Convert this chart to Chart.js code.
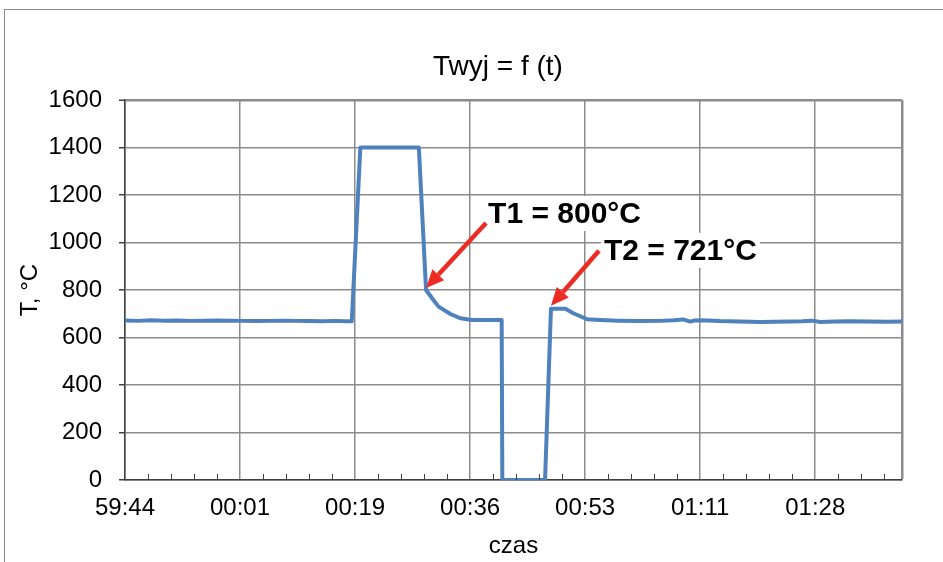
<!DOCTYPE html>
<html lang="pl">
<head>
    <meta charset="UTF-8">
    <title>Twyj = f (t)</title>
    <script src="https://cdn.jsdelivr.net/npm/chart.js"></script>
    <style>
        html, body { margin: 0; padding: 0; background: #fff; overflow: hidden; }
        #frame { position: absolute; left: 4px; top: 9px; width: 1000px; height: 600px; border: 1.5px solid #8a8a8a; }
        #wrap { position: absolute; left: 0; top: 0; width: 943px; height: 562px; }
    </style>
</head>
<body>
    <div id="frame"></div>
    <div id="wrap"><canvas id="chart" width="943" height="562"></canvas></div>

    <script>
        // dane (czas w sekundach od 59:44)
        const timeSec = [0, 2, 4, 6, 8, 10, 12, 14, 16, 18,
            20, 22, 24, 26, 28, 30, 32, 33.5, 34.5, 35.8,
            44.7, 45.8, 46.8, 47.7, 49.5, 51.0, 52.8, 55, 57.3, 57.4,
            63.9, 64.8, 67.0, 68.2, 70.3, 72.3, 75, 78.4, 81.4, 83.5,
            84.9, 86.0, 86.7, 87.5, 90.5, 93.5, 96.6, 99, 101.2, 103,
            104.5, 105.8, 108, 110.3, 113, 116, 118.2];
        const tempC = [672, 670, 673, 671, 672, 670, 671, 672, 671, 670,
            669, 670, 671, 670, 669, 668, 670, 668, 668, 1400,
            1400, 800, 762, 730, 699, 681, 674, 674, 674, 0,
            0, 721, 721, 702, 677, 674, 671, 669, 670, 673,
            676, 667, 672, 673, 669, 667, 665, 666, 667, 668,
            671, 665, 667, 668, 667, 666, 667];

        const tickLabels = ['59:44', '00:01', '00:19', '00:36', '00:53', '01:11', '01:28'];
        const secPerLabel = 17.5;
        const minorPerLabel = 5;
        const xMax = 118.2;

        const yTicks = [0, 200, 400, 600, 800, 1000, 1200, 1400, 1600];

        const noteLabels = ['T1 = 800°C', 'T2 = 721°C'];
        const noteTimes = [45.8, 64.8];
        const noteTemps = [800, 721];

        const FONT = "'Liberation Sans', Arial, sans-serif";
        const GRID = '#8c8c8c';
        const AXIS = '#404040';

        // tytuł wykresu
        const titlePlugin = {
            id: 'chartTitle',
            afterDraw(chart, args, opts) {
                const ctx = chart.ctx;
                ctx.save();
                ctx.font = '28px ' + FONT;
                ctx.fillStyle = '#000';
                ctx.textAlign = 'center';
                ctx.textBaseline = 'middle';
                ctx.fillText(opts.text, opts.x, opts.y);
                ctx.restore();
            }
        };

        // małe kreski osi X skierowane do góry
        const minorTicksPlugin = {
            id: 'minorTicks',
            afterDatasetsDraw(chart) {
                const x = chart.scales.x;
                const ctx = chart.ctx;
                const bottom = chart.chartArea.bottom;
                ctx.save();
                ctx.strokeStyle = AXIS;
                ctx.lineWidth = 1;
                x.ticks.forEach((t, i) => {
                    if (i % minorPerLabel === 0 || t.value >= xMax) return;
                    const px = Math.round(x.getPixelForValue(t.value)) + 0.5;
                    ctx.beginPath();
                    ctx.moveTo(px, bottom);
                    ctx.lineTo(px, bottom - 6);
                    ctx.stroke();
                });
                ctx.restore();
            }
        };

        // strzałki z opisami T1 / T2
        const notesPlugin = {
            id: 'notes',
            afterDraw(chart, args, opts) {
                const ctx = chart.ctx;
                const xs = chart.scales.x, ys = chart.scales.y;
                ctx.save();
                noteLabels.forEach((label, i) => {
                    const o = opts.offsets[i];
                    const px = xs.getPixelForValue(noteTimes[i]);
                    const py = ys.getPixelForValue(noteTemps[i]);
                    const tipX = px + o.tip[0], tipY = py + o.tip[1];
                    const tailX = px + o.tail[0], tailY = py + o.tail[1];

                    // tło tekstu
                    ctx.font = 'bold 30px ' + FONT;
                    const w = ctx.measureText(label).width;
                    const tx = px + o.text[0], ty = py + o.text[1];
                    ctx.fillStyle = '#fff';
                    ctx.fillRect(tx - 3, ty - 27, w + 6, 35);
                    ctx.fillStyle = '#000';
                    ctx.textAlign = 'left';
                    ctx.textBaseline = 'alphabetic';
                    ctx.fillText(label, tx, ty);

                    // strzałka
                    const ang = Math.atan2(tipY - tailY, tipX - tailX);
                    const headLen = 18, headW = 8;
                    const bx = tipX - headLen * Math.cos(ang);
                    const by = tipY - headLen * Math.sin(ang);
                    ctx.strokeStyle = opts.color;
                    ctx.fillStyle = opts.color;
                    ctx.lineWidth = 4.5;
                    ctx.beginPath();
                    ctx.moveTo(tailX, tailY);
                    ctx.lineTo(bx, by);
                    ctx.stroke();
                    ctx.beginPath();
                    ctx.moveTo(tipX, tipY);
                    ctx.lineTo(bx + headW * Math.sin(ang), by - headW * Math.cos(ang));
                    ctx.lineTo(bx - headW * Math.sin(ang), by + headW * Math.cos(ang));
                    ctx.closePath();
                    ctx.fill();
                });
                ctx.restore();
            }
        };

        const points = timeSec.map((t, i) => ({ x: t, y: tempC[i] }));

        new Chart(document.getElementById('chart'), {
            type: 'line',
            data: {
                datasets: [{
                    label: 'Twyj',
                    data: points,
                    borderColor: '#4f81bd',
                    borderWidth: 4,
                    borderJoinStyle: 'round',
                    pointRadius: 0,
                    tension: 0,
                    fill: false
                }]
            },
            options: {
                responsive: false,
                animation: false,
                layout: { padding: { left: 0, top: 100, right: 41, bottom: 0 } },
                plugins: {
                    legend: { display: false },
                    tooltip: { enabled: false },
                    chartTitle: { text: 'Twyj = f (t)', x: 498, y: 67 },
                    notes: {
                        color: '#ec2b25',
                        offsets: [
                            { tip: [0, -2], tail: [60, -67], text: [62, -67] },
                            { tip: [0, -3], tail: [48, -58], text: [53, -49] }
                        ]
                    }
                },
                scales: {
                    x: {
                        type: 'linear',
                        min: 0,
                        max: xMax,
                        afterBuildTicks: s => {
                            const step = secPerLabel / minorPerLabel;
                            const ticks = [];
                            for (let i = 0; i * step < xMax - 0.01; i++) ticks.push({ value: i * step });
                            ticks.push({ value: xMax });
                            s.ticks = ticks;
                        },
                        afterFit: s => { s.height = 82; },
                        ticks: {
                            autoSkip: false,
                            maxRotation: 0,
                            padding: 14,
                            color: '#000',
                            font: { family: FONT, size: 24 },
                            callback: (v, i) => (i % minorPerLabel === 0 && v < xMax) ? tickLabels[i / minorPerLabel] : ''
                        },
                        grid: {
                            drawTicks: false,
                            color: c => (c.index % minorPerLabel === 0 || (c.tick && c.tick.value >= xMax)) ? GRID : 'rgba(0,0,0,0)',
                            lineWidth: c => (c.tick && c.tick.value >= xMax) ? 2.5 : 1.5
                        },
                        border: { color: AXIS, width: 1.5 },
                        title: {
                            display: true,
                            text: 'czas',
                            color: '#000',
                            font: { family: FONT, size: 24 },
                            padding: { top: 0, bottom: 1 }
                        }
                    },
                    y: {
                        min: yTicks[0],
                        max: yTicks[yTicks.length - 1],
                        afterBuildTicks: s => { s.ticks = yTicks.map(v => ({ value: v })); },
                        afterFit: s => { s.width = 125; },
                        ticks: {
                            padding: 17,
                            color: '#000',
                            font: { family: FONT, size: 24 },
                            callback: v => String(v)
                        },
                        grid: {
                            color: GRID,
                            lineWidth: c => c.index === yTicks.length - 1 ? 2.5 : 1.5,
                            tickLength: 6,
                            tickColor: AXIS,
                            tickWidth: 1.5
                        },
                        border: { color: AXIS, width: 1.5 },
                        title: {
                            display: true,
                            text: 'T, °C',
                            color: '#000',
                            font: { family: FONT, size: 24 },
                            padding: { top: 16, bottom: 0 }
                        }
                    }
                }
            },
            plugins: [titlePlugin, minorTicksPlugin, notesPlugin]
        });
    </script>
</body>
</html>
